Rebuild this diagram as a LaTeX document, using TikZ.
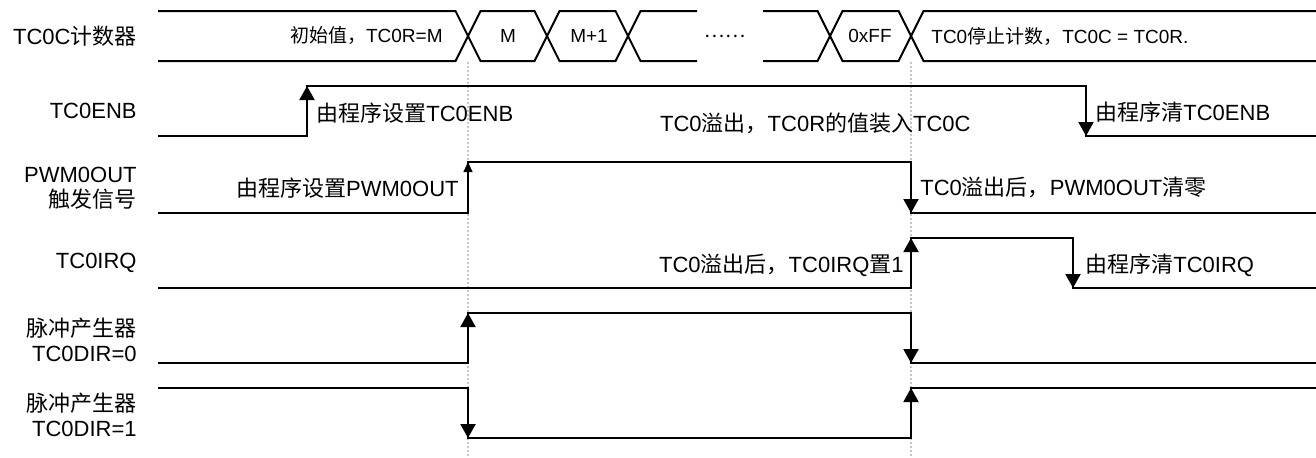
\documentclass[tikz,border=0pt]{standalone}
\usepackage{fontspec}
\setmainfont{Liberation Sans}
\newfontfamily\cjk{Noto Sans CJK SC}
\usetikzlibrary{arrows.meta}
\newcommand\zh[1]{{\cjk #1}}
\begin{document}
\begin{tikzpicture}[x=0.5pt,y=-0.5pt,
  wave/.style={line width=1pt, line join=miter},
  edgearrow/.style={line width=1pt, -{Triangle[length=7pt,width=7.5pt]}},
  thinarrow/.style={line width=0.5pt, -{Triangle[length=5pt,width=4.5pt]}},
  guide/.style={gray!45, line width=0.8pt, dash pattern=on 1.2pt off 0.8pt},
  lbl/.style={font=\fontsize{11}{12.5}\selectfont, align=right, anchor=east, inner sep=0pt},
  note/.style={font=\fontsize{11}{13}\selectfont, inner sep=0pt},
  bus/.style={font=\fontsize{9.5}{11}\selectfont, inner sep=0pt}]
\useasboundingbox (0,0) rectangle (1316,457);

% guide lines
\coordinate (g1t) at (468,62); \coordinate (g1b) at (468,457);
\coordinate (g2t) at (911,62); \coordinate (g2b) at (911,457);
\draw[guide] (g1t) -- (g1b);
\draw[guide] (g2t) -- (g2b);

% row labels
\node[lbl] (lc)   at (137,36)  {TC0C\zh{计数器}};
\node[lbl] (lenb) at (137,111) {TC0ENB};
\node[lbl] (lpwm) at (137,188) {PWM0OUT\\\zh{触发信号}};
\node[lbl] (lirq) at (137,263) {TC0IRQ};
\node[lbl] (ld0)  at (137,340) {\zh{脉冲产生器}\\TC0DIR=0};
\node[lbl] (ld1)  at (137,415) {\zh{脉冲产生器}\\TC0DIR=1};

% counter bus
\draw[wave] (158,11) -- (455.5,11) -- (468,36) -- (455.5,61) -- (158,61);
\draw[wave] (468,36) -- (480.5,11) -- (534.5,11) -- (547,36) -- (534.5,61) -- (480.5,61) -- cycle;
\draw[wave] (547,36) -- (559.5,11) -- (615.5,11) -- (628,36) -- (615.5,61) -- (559.5,61) -- cycle;
\draw[wave] (697,11) -- (640.5,11) -- (628,36) -- (640.5,61) -- (697,61);
\draw[wave] (763,11) -- (817.5,11) -- (830,36) -- (817.5,61) -- (763,61);
\draw[wave] (830,36) -- (842.5,11) -- (898.5,11) -- (911,36) -- (898.5,61) -- (842.5,61) -- cycle;
\draw[wave] (1316,11) -- (923.5,11) -- (911,36) -- (923.5,61) -- (1316,61);

\node[bus, anchor=east] (binit) at (443,36) {\zh{初始值，}TC0R=M};
\node[bus] (bm)   at (508,36) {M};
\node[bus] (bm1)  at (589,36) {M+1};
\node[bus] (bdot) at (725,36) {\zh{……}};
\node[bus] (bff)  at (870,36) {0xFF};
\node[bus, anchor=west] (bstop) at (931,36) {TC0\zh{停止计数，}TC0C = TC0R.};

% TC0ENB
\draw[wave] (158,136) -- (307,136) -- (307,86) -- (1086,86) -- (1086,136) -- (1316,136);
\coordinate (e1l) at (307,136); \coordinate (e1h) at (307,86);
\coordinate (e2h) at (1086,86); \coordinate (e2l) at (1086,136);
\draw[edgearrow] (e1l) -- (e1h);
\draw[edgearrow] (e2h) -- (e2l);
\node[note, anchor=west] (tenbset) at (316,113) {\zh{由程序设置}TC0ENB};
\node[note, anchor=east] (tovf) at (971,123) {TC0\zh{溢出，}TC0R\zh{的值装入}TC0C};
\node[note, anchor=west] (tenbclr) at (1095,112) {\zh{由程序清}TC0ENB};

% PWM0OUT
\draw[wave] (158,213) -- (468,213) -- (468,162) -- (911,162) -- (911,213) -- (1316,213);
\coordinate (p1l) at (468,213); \coordinate (p1h) at (468,162);
\coordinate (p2h) at (911,162); \coordinate (p2l) at (911,213);
\draw[thinarrow] (p1l) -- (p1h);
\draw[edgearrow] (p2h) -- (p2l);
\node[note, anchor=east] (tpwmset) at (459,188) {\zh{由程序设置}PWM0OUT};
\node[note, anchor=west] (tpwmclr) at (920,187) {TC0\zh{溢出后，}PWM0OUT\zh{清零}};

% TC0IRQ
\draw[wave] (158,288) -- (911,288) -- (911,238) -- (1073,238) -- (1073,288) -- (1316,288);
\coordinate (i1l) at (911,288); \coordinate (i1h) at (911,238);
\coordinate (i2h) at (1073,238); \coordinate (i2l) at (1073,288);
\draw[edgearrow] (i1l) -- (i1h);
\draw[edgearrow] (i2h) -- (i2l);
\node[note, anchor=east] (tirqset) at (904,265) {TC0\zh{溢出后，}TC0IRQ\zh{置}1};
\node[note, anchor=west] (tirqclr) at (1085,265) {\zh{由程序清}TC0IRQ};

% TC0DIR=0
\draw[wave] (158,363) -- (468,363) -- (468,313) -- (911,313) -- (911,363) -- (1316,363);
\coordinate (a1l) at (468,363); \coordinate (a1h) at (468,313);
\coordinate (a2h) at (911,313); \coordinate (a2l) at (911,363);
\draw[edgearrow] (a1l) -- (a1h);
\draw[edgearrow] (a2h) -- (a2l);

% TC0DIR=1
\draw[wave] (158,388) -- (468,388) -- (468,438) -- (911,438) -- (911,388) -- (1316,388);
\coordinate (b1h) at (468,388); \coordinate (b1l) at (468,438);
\coordinate (b2l) at (911,438); \coordinate (b2h) at (911,388);
\draw[edgearrow] (b1h) -- (b1l);
\draw[edgearrow] (b2l) -- (b2h);
\end{tikzpicture}
\end{document}
